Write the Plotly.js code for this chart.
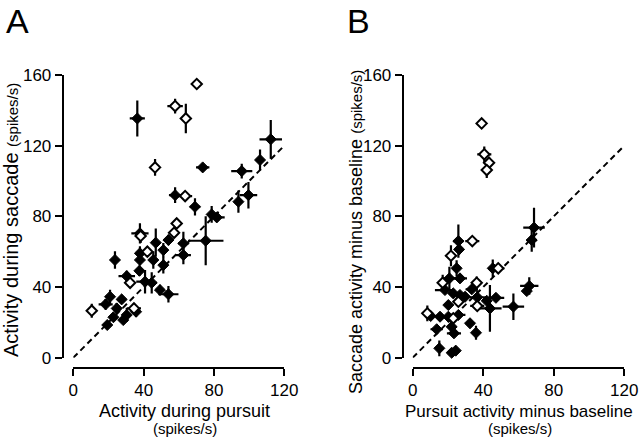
<!DOCTYPE html>
<html>
<head>
<meta charset="utf-8">
<script src="https://cdn.plot.ly/plotly-3.0.1.min.js"></script>
<style>html,body{margin:0;padding:0;background:#fff;}#chart{width:640px;height:439px;}</style>
</head>
<body>
<div id="chart"></div>
<script>
// ---- Panel A: activity during pursuit vs saccade (spikes/s)
const aFillX  = [36.4,112.3,106.2,73.6,95.8,57.9,99.6,93.9,69.2,78.7,81.6,75.3,62.6,62.6,54.1,46.9,37.9,51.2,37.9,23.7,37.9,45.5,51.2,30.4,37.6,40.8,44.6,49.3,54.1,20.9,18.4,27.5,24.7,30.4,28.4,22.8,19.3,35.7];
const aFillY  = [135.4,123.6,111.9,107.7,105.6,92,92,88.3,85.4,81.1,79.4,66.2,64.7,58.1,66.6,65.1,70.4,60.9,59.1,55.3,55.3,55.3,52.4,46.2,49.2,43,42.4,38.3,35.9,34.5,30.2,33,27.9,24.2,21.3,22.9,18.5,26];
const aFillEx = [4.3,6.4,2,3.8,6,3.5,5,2,3,2,4.5,10.1,3,4.3,2,2,4.9,2,2,1.5,2,2,2,4.7,2,5,3,2,5.7,2,4,2,2,2,2,2,2,2];
const aFillEy = [10.2,11,6,2,4.2,4.4,7.5,6.3,4.9,4.7,2,13.9,6.6,5.2,3,8,5.7,4,4,5,3,5,4.7,3,3,6.6,6,3,4.7,4,3,2,3,4,2,2,2,3];

const aOpenX  = [70.2,57.9,64,46.5,63.6,58.8,57.3,38.3,42.1,32.3,10.5,34.5];
const aOpenY  = [154.9,142.4,135.4,107.7,91.5,76,70.7,68.9,60,42.4,26.6,27.9];
const aOpenEx = [1,4.4,1.5,2.8,4,2,2,2,2,2,1,4];
const aOpenEy = [1,4.2,8.3,4.7,2,3,2,4,3,3,4,3];

// ---- Panel B: pursuit minus baseline vs saccade minus baseline (spikes/s)
const bFillX  = [25.9,26.3,68.8,67.5,45.4,24.9,20.8,26.8,66.1,64.7,18.3,33.5,23,29.7,36.6,47.2,42,43.8,57.1,10.2,15.5,20.2,25.9,13.6,22.1,23.4,32.5,35.9,15.1,22.1,24.4,26.8,20.2];
const bFillY  = [66,61.3,73.6,66.6,50.6,50.6,44.9,44.9,40.6,37.7,38.3,38.7,36.4,34.5,34.2,33.9,32.2,27.9,28.9,23.6,23.2,23.2,24.2,16.1,17.5,13.8,19.5,14.1,5.3,2.8,4,35.5,29.8];
const bFillEx = [3,2,6.1,3,2,2,3.5,4,5.2,2,5.7,3.5,2,2,4.5,4.7,2,6.6,6.1,2,2,2,4,3.5,2,4,2,2,2,2,2,2,2];
const bFillEy = [9.4,3,11.3,6.6,5,4.5,6.6,2,5,2,2,2,2,2,4,2,2,13.2,7.5,2,2,2,2,2,5,2,2,4,4.5,2,2,2,2];

const bOpenX  = [39.1,40.6,43.3,42,33.8,21.7,48.5,17,36.3,36.6,8.3,23,25.9];
const bOpenY  = [132.6,115.1,110.3,106.2,66,57.7,50.6,42.4,42.4,29.3,25.1,22.3,31.7];
const bOpenEx = [1,4,2,2,4,3,3.5,2,2,4,3,2,2];
const bOpenEy = [1,4.5,3.5,4.5,2,6,2,4.5,3.5,2,4.5,2,2];

// unity line
const unityX = [0,120];
const unityY = [0,120];

const xTicks = [0,40,80,120];
const yTicks = [0,40,80,120,160];

const FONT = 'Arial, "Liberation Sans", Helvetica, sans-serif';

function errs(arr){ return {type:'data', array:arr, visible:true, color:'#000', thickness:2.2, width:0}; }
function filled(x,y,ex,ey,xa,ya){
  return {type:'scatter', mode:'markers', x:x, y:y, xaxis:xa, yaxis:ya, cliponaxis:false,
    error_x:errs(ex), error_y:errs(ey),
    marker:{symbol:'diamond', size:8.5, color:'#000', line:{color:'#000', width:1}}, hoverinfo:'x+y'};
}
function open(x,y,ex,ey,xa,ya){
  return {type:'scatter', mode:'markers', x:x, y:y, xaxis:xa, yaxis:ya, cliponaxis:false,
    error_x:errs(ex), error_y:errs(ey),
    marker:{symbol:'diamond', size:8, color:'#fff', line:{color:'#000', width:2}}, hoverinfo:'x+y'};
}
function unity(xa,ya){
  return {type:'scatter', mode:'lines', x:unityX, y:unityY, xaxis:xa, yaxis:ya, cliponaxis:false,
    line:{color:'#000', width:2, dash:'6px,4px'}, hoverinfo:'skip'};
}

const data = [
  unity('x','y'), filled(aFillX,aFillY,aFillEx,aFillEy,'x','y'), open(aOpenX,aOpenY,aOpenEx,aOpenEy,'x','y'),
  unity('x2','y2'), filled(bFillX,bFillY,bFillEx,bFillEy,'x2','y2'), open(bOpenX,bOpenY,bOpenEx,bOpenEy,'x2','y2')
];

const W = 640, H = 439;
function px(v){ return v/W; }
function py(v){ return 1 - v/H; }

const yDom = [py(357.7), py(75)];
function xAxis(dom){
  return {domain:dom, range:[0,120], anchor:'free', position:py(368), showline:true, linecolor:'#000', linewidth:2,
    ticks:'outside', ticklen:7, tickwidth:2, tickcolor:'#000', tickvals:xTicks, ticktext:xTicks.map(String),
    showgrid:false, zeroline:false, automargin:false, fixedrange:true,
    tickfont:{family:FONT, size:17, color:'#000'}};
}
function yAxis(xpos){
  return {domain:yDom, range:[0,160], anchor:'free', position:xpos, showline:true, linecolor:'#000', linewidth:2,
    ticks:'outside', ticklen:7, tickwidth:2, tickcolor:'#000', tickvals:yTicks, ticktext:yTicks.map(String),
    showgrid:false, zeroline:false, automargin:false, fixedrange:true,
    tickfont:{family:FONT, size:17, color:'#000'}};
}

function ann(text, x, y, size, angle, yanchor){
  return {text:text, xref:'paper', yref:'paper', x:px(x), y:py(y), xanchor:'center', yanchor:yanchor||'middle',
    showarrow:false, textangle:angle||0, font:{family:FONT, size:size, color:'#000'}};
}

const layout = {
  width:W, height:H, margin:{l:0,r:0,t:0,b:0}, paper_bgcolor:'#fff', plot_bgcolor:'rgba(0,0,0,0)',
  showlegend:false,
  xaxis: xAxis([px(73.3), px(284.3)]),
  yaxis: yAxis(px(62.7)),
  xaxis2: xAxis([px(412.7), px(624.3)]),
  yaxis2: yAxis(px(402.7)),
  annotations:[
    ann('A', 17, 0, 34, 0, 'top'),
    ann('B', 358, 0, 34, 0, 'top'),
    ann('Activity during pursuit', 184, 411, 18),
    ann('(spikes/s)', 185, 428, 15),
    ann('Pursuit activity minus baseline', 519, 411, 17),
    ann('(spikes/s)', 520, 428, 15),
    ann('Activity during saccade <span style="font-size:15px">(spikes/s)</span>', 11, 220, 20, -90),
    ann('Saccade activity minus baseline <span style="font-size:15px">(spikes/s)</span>', 356, 232, 18, -90)
  ]
};

Plotly.newPlot('chart', data, layout, {staticPlot:true, displayModeBar:false});
</script>
</body>
</html>
